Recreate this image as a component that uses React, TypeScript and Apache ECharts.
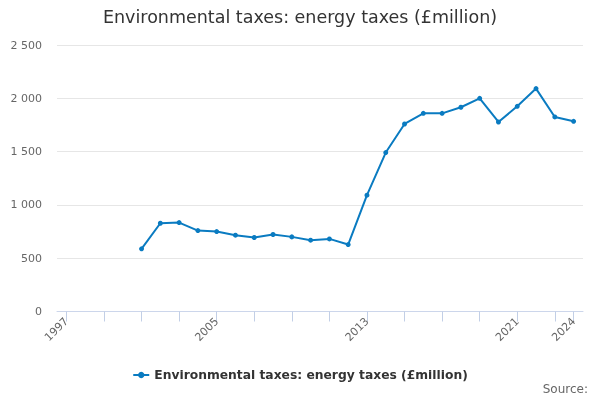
import React, { useEffect, useRef } from "react";
import * as echarts from "echarts";

const years: string[] = [];
for (let y = 1997; y <= 2024; y++) years.push(String(y));

const energyTaxes: (number | null)[] = [
  null, null, null, null,
  588, 828, 834, 759, 750, 716, 694, 722, 700, 669, 681, 628,
  1091, 1491, 1759, 1859, 1859, 1916, 2000, 1778, 1925, 2091, 1825, 1784,
];

const yTicks = [0, 500, 1000, 1500, 2000, 2500];
const labelYears = ["1997", "2005", "2013", "2021", "2024"];

const FONT = "DejaVu Sans";

export default function App() {
  const ref = useRef<HTMLDivElement>(null);
  useEffect(() => {
    if (!ref.current) return;
    const chart = echarts.init(ref.current, null, { renderer: "svg" });
    chart.setOption({
      animation: false,
      textStyle: { fontFamily: FONT },
      title: {
        text: "Environmental taxes: energy taxes (£million)",
        left: "center",
        top: 3,
        textStyle: { fontFamily: FONT, fontSize: 17.5, fontWeight: "normal", color: "#333333" },
      },
      graphic: [
        {
          type: "text",
          right: 12,
          top: 383,
          style: { text: "Source:", fontFamily: FONT, fontSize: 12, fill: "#666666" },
        },
      ],
      legend: {
        bottom: 14,
        left: "center",
        itemWidth: 16,
        itemHeight: 8,
        itemGap: 10,
        textStyle: { fontFamily: FONT, fontSize: 12.3, fontWeight: "bold", color: "#333333" },
        data: ["Environmental taxes: energy taxes (£million)"],
      },
      grid: { left: 57, right: 17, top: 45, bottom: 88.5, containLabel: false },
      xAxis: {
        type: "category",
        data: years,
        boundaryGap: true,
        axisLine: { show: true, lineStyle: { color: "#ccd6eb", width: 1 } },
        axisTick: {
          show: true,
          alignWithLabel: true,
          length: 10,
          lineStyle: { color: "#c2cfe6", width: 1 },
          interval: (i: number) => i % 2 === 0 || i === years.length - 1,
        },
        axisLabel: {
          rotate: 45,
          color: "#666666",
          fontSize: 11,
          fontFamily: FONT,
          margin: 8,
          interval: (i: number, v: string) => labelYears.includes(v),
        },
      },
      yAxis: {
        type: "value",
        min: yTicks[0],
        max: yTicks[yTicks.length - 1],
        interval: 500,
        axisLine: { show: false },
        axisTick: { show: false },
        splitLine: { lineStyle: { color: "#e6e6e6" } },
        axisLabel: {
          color: "#666666",
          fontSize: 11,
          fontFamily: FONT,
          margin: 15,
          formatter: (v: number) => String(v).replace(/\B(?=(\d{3})+(?!\d))/g, " "),
        },
      },
      series: [
        {
          name: "Environmental taxes: energy taxes (£million)",
          type: "line",
          data: energyTaxes,
          connectNulls: false,
          symbol: "circle",
          symbolSize: 5,
          showSymbol: true,
          lineStyle: { width: 2, color: "#0a7bc1" },
          itemStyle: { color: "#0a7bc1" },
        },
      ],
    });
    return () => chart.dispose();
  }, []);
  return (
    <div
      ref={ref}
      style={{ position: "fixed", left: 0, top: 0, width: 600, height: 400 }}
    />
  );
}
